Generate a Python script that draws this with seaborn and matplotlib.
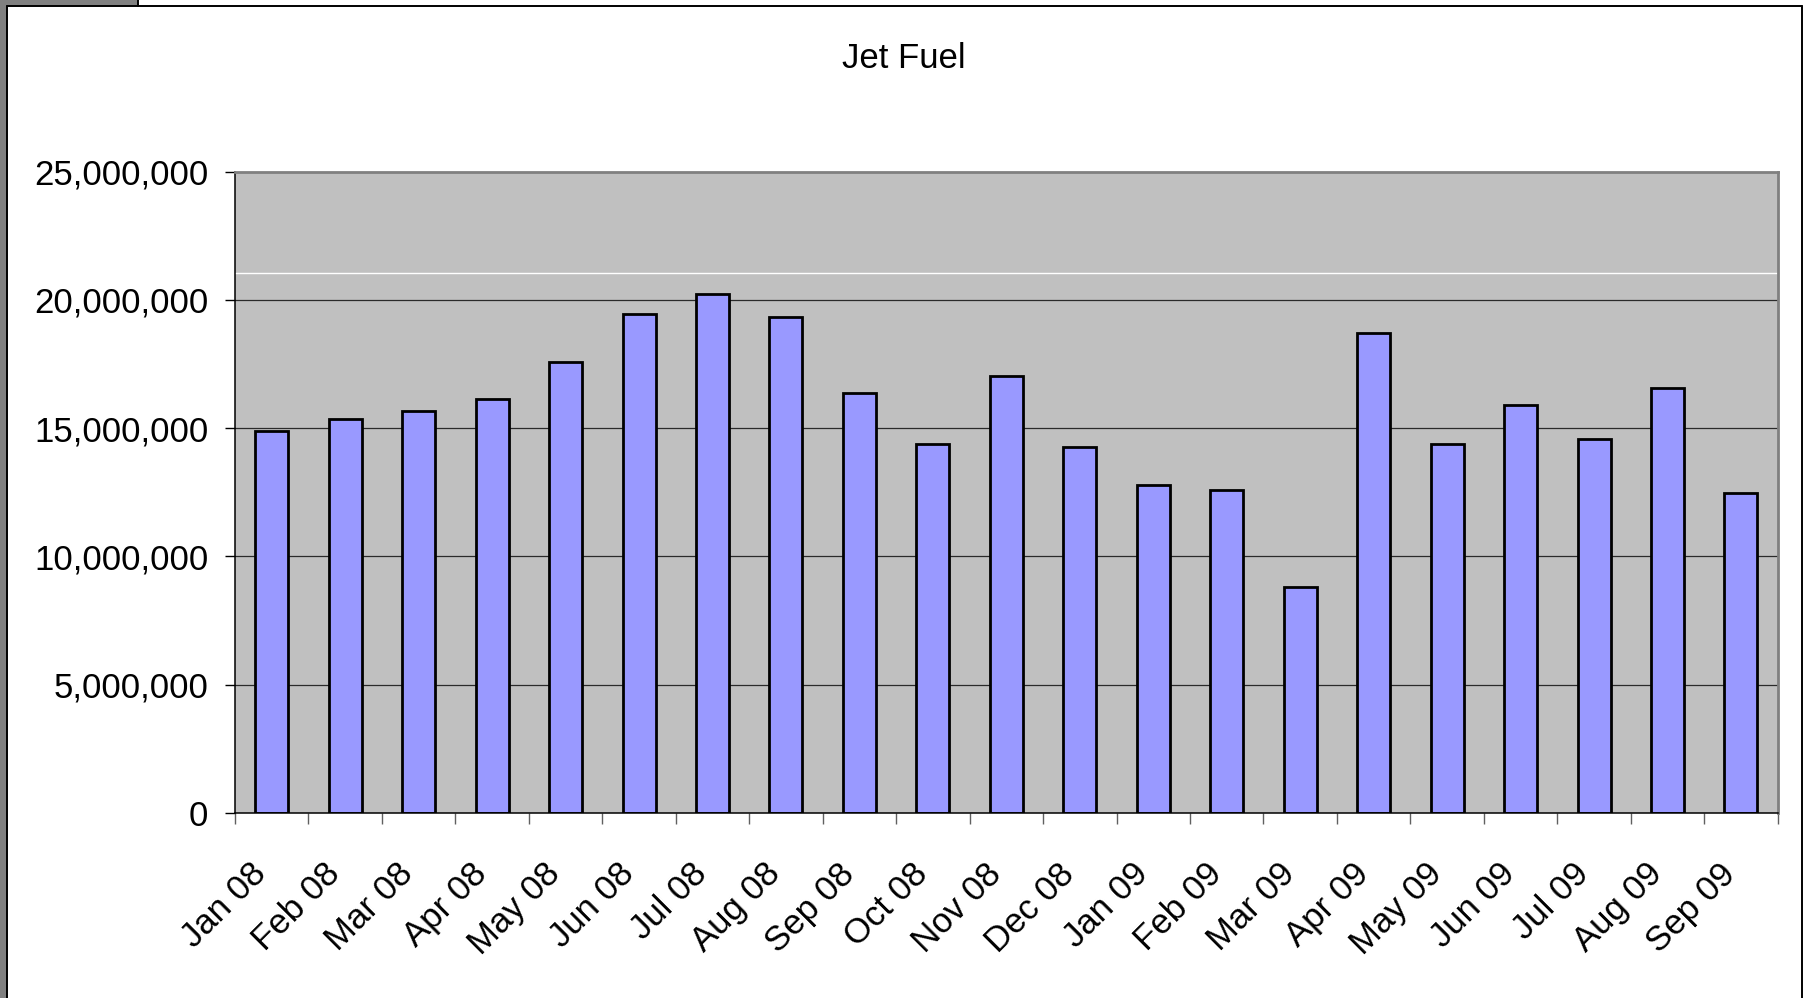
import matplotlib
matplotlib.use("Agg")
import matplotlib.pyplot as plt
import matplotlib.transforms as mtransforms
from matplotlib.patches import Rectangle
from matplotlib.lines import Line2D
from matplotlib.ticker import FuncFormatter, FixedLocator
import numpy as np
import pandas as pd
import seaborn as sns

# Data
months = ["Jan 08", "Feb 08", "Mar 08", "Apr 08", "May 08", "Jun 08", "Jul 08",
          "Aug 08", "Sep 08", "Oct 08", "Nov 08", "Dec 08", "Jan 09", "Feb 09",
          "Mar 09", "Apr 09", "May 09", "Jun 09", "Jul 09", "Aug 09", "Sep 09"]
jet_fuel = [14.89e6, 15.35e6, 15.67e6, 16.13e6, 17.57e6, 19.46e6, 20.24e6,
            19.35e6, 16.35e6, 14.36e6, 17.02e6, 14.25e6, 12.80e6, 12.58e6,
            8.81e6, 18.70e6, 14.36e6, 15.89e6, 14.57e6, 16.58e6, 12.46e6]
y_ticks = [0, 5e6, 10e6, 15e6, 20e6, 25e6]
stray_line = 21.06e6  # thin white line visible in the original

sns.set_style("white")
plt.rcParams["font.family"] = ["Liberation Sans", "DejaVu Sans"]
plt.rcParams["text.color"] = "black"
plt.rcParams["xtick.color"] = "black"
plt.rcParams["ytick.color"] = "black"

W, H = 1806, 998
fig = plt.figure(figsize=(W / 100, H / 100), dpi=100)
fig.patch.set_facecolor("white")

# outer frame of the screenshot
fig.patches.append(Rectangle((0, 0), 7 / W, 1, transform=fig.transFigure,
                             facecolor="#808080", edgecolor="none"))
fig.patches.append(Rectangle((0, 1 - 6 / H), 138 / W, 6 / H, transform=fig.transFigure,
                             facecolor="#808080", edgecolor="none"))
fig.lines.append(Line2D([7 / W, 1802 / W], [1 - 6 / H, 1 - 6 / H], transform=fig.transFigure,
                        color="black", lw=1.4))
fig.lines.append(Line2D([7 / W, 7 / W], [0, 1 - 6 / H], transform=fig.transFigure,
                        color="black", lw=1.4))
fig.lines.append(Line2D([1802 / W, 1802 / W], [0, 1 - 6 / H], transform=fig.transFigure,
                        color="black", lw=1.4))
fig.lines.append(Line2D([138 / W, 138 / W], [1 - 6 / H, 1], transform=fig.transFigure,
                        color="black", lw=1.4))

ax = fig.add_axes([235 / W, 1 - 812.8 / H, (1777.7 - 235) / W, (812.8 - 171.6) / H])
ax.set_facecolor("#C0C0C0")

df = pd.DataFrame({"Month": months, "Jet Fuel": jet_fuel})

for yv in y_ticks[1:-1]:
    ax.axhline(yv, color="#2a2a2a", lw=0.9, zorder=0.5)
ax.axhline(stray_line, color="white", lw=1.0, zorder=0.5)

sns.barplot(data=df, x="Month", y="Jet Fuel", color="#9999FF", saturation=1,
            edgecolor="black", linewidth=2, width=0.45, ax=ax, zorder=2)

ax.set_xlim(-0.5, len(months) - 0.5)
ax.set_ylim(0, 25e6)
ax.set_yticks(y_ticks)
ax.yaxis.set_major_formatter(FuncFormatter(lambda v, p: f"{int(v):,}"))
ax.set_xlabel("")
ax.set_ylabel("")

ax.tick_params(axis="y", which="major", direction="out", length=7.2, width=1,
               color="black", pad=12, labelsize=25, labelcolor="black", left=True)
ax.tick_params(axis="x", which="major", length=0, pad=32, labelsize=25,
               labelcolor="black", bottom=True)
ax.xaxis.set_minor_locator(FixedLocator(np.arange(-0.5, len(months), 1)))
ax.tick_params(axis="x", which="minor", direction="out", length=8, width=1,
               color="#606060", bottom=True)

offset = mtransforms.ScaledTranslation(-22 / 100, 0, fig.dpi_scale_trans)
for lab in ax.get_xticklabels():
    lab.set_rotation(45)
    lab.set_ha("right")
    lab.set_va("top")
    lab.set_rotation_mode("anchor")
    lab.set_transform(lab.get_transform() + offset)

for side in ["left", "bottom"]:
    ax.spines[side].set_color("black")
    ax.spines[side].set_linewidth(1.1)
for side in ["top", "right"]:
    ax.spines[side].set_color("#808080")
    ax.spines[side].set_linewidth(2)
    ax.spines[side].set_visible(True)

fig.text(903.7 / W, 1 - 58 / H, "Jet Fuel", ha="center", va="center", fontsize=25)

fig.savefig("out.png", dpi=100)
